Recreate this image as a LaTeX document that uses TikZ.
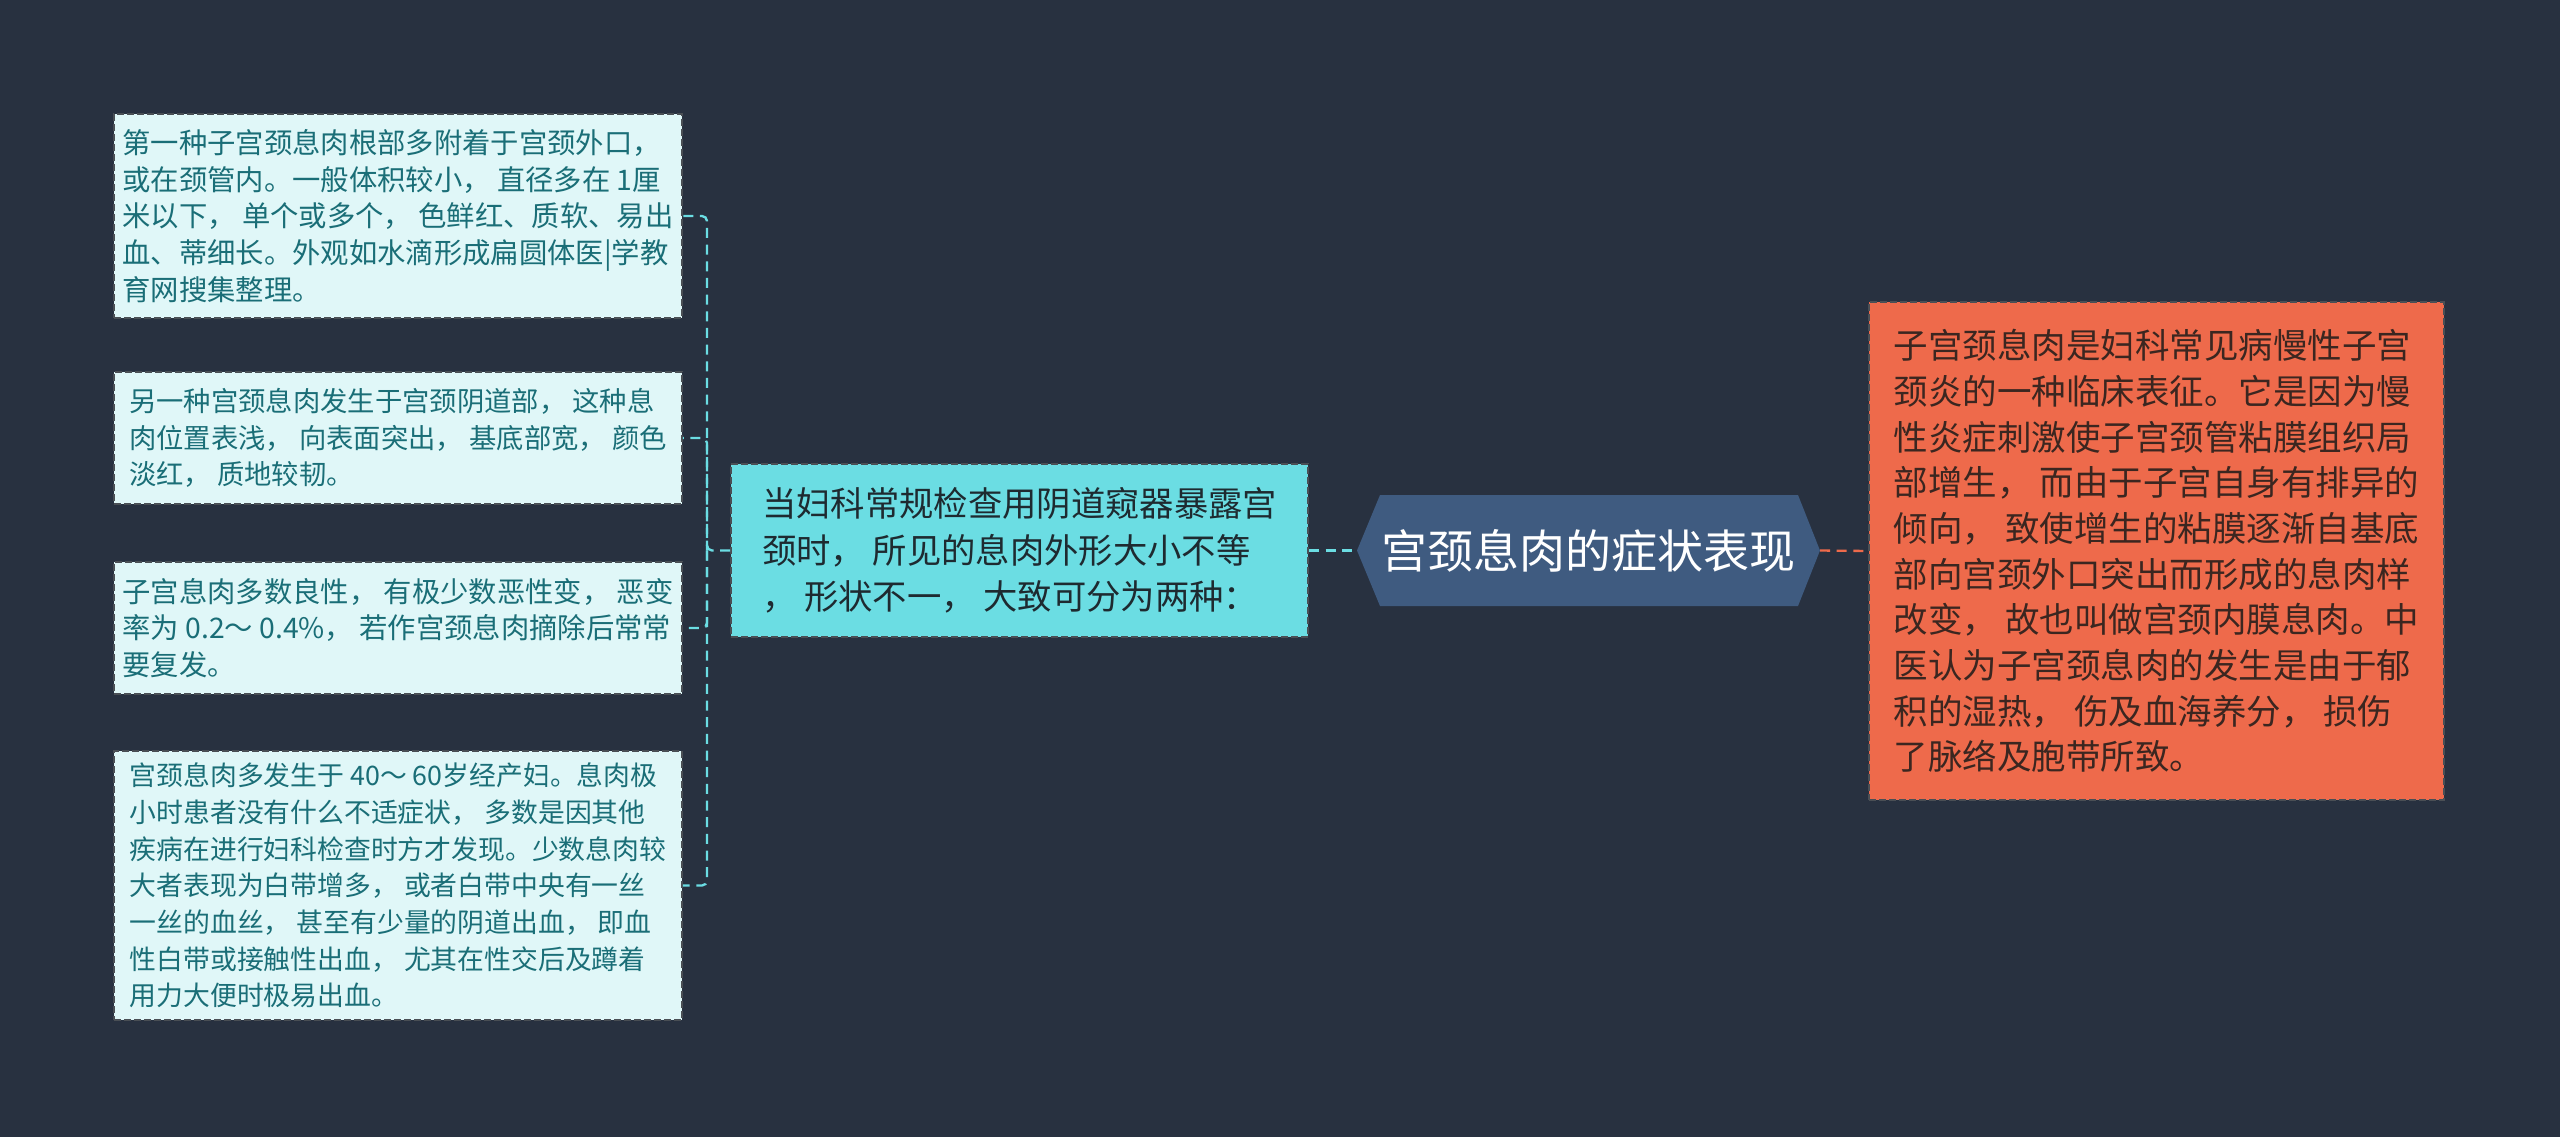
\documentclass[tikz,border=0pt]{standalone}
\usepackage{fontspec}
\setmainfont{Noto Sans CJK SC}
\definecolor{bgc}{HTML}{283140}
\definecolor{leaffill}{HTML}{E0F7F8}
\definecolor{leaftext}{HTML}{1A6E77}
\definecolor{cyanc}{HTML}{6BDDE3}
\definecolor{midtext}{HTML}{1E2A30}
\definecolor{hexfill}{HTML}{3F5B80}
\definecolor{orangec}{HTML}{EE6A4B}
\definecolor{orangetext}{HTML}{3B2620}
\definecolor{bordc}{HTML}{4A4F55}
\tikzset{
  leafbox/.style={draw=bordc, line width=0.5pt, dash pattern=on 2pt off 1pt, fill=leaffill,
    text=leaftext, align=left, minimum width=170.4pt, inner sep=0pt,
    font=\fontsize{8.5pt}{11pt}\selectfont},
  midbox/.style={draw=bordc, line width=0.5pt, dash pattern=on 2pt off 1pt, fill=cyanc,
    text=midtext, align=left, minimum width=173.1pt, minimum height=51.9pt, inner sep=0pt,
    font=\fontsize{10.3pt}{14pt}\selectfont},
  orangebox/.style={draw=bordc, line width=0.5pt, dash pattern=on 2pt off 1pt, fill=orangec,
    text=orangetext, align=left, minimum width=172.5pt, minimum height=149.4pt, inner sep=0pt,
    font=\fontsize{10.35pt}{13.7pt}\selectfont},
  centerbox/.style={text=white, minimum width=125pt, minimum height=33.3pt, inner sep=0pt,
    font=\fontsize{13.8pt}{16pt}\selectfont},
  hexshape/.style={fill=hexfill},
  cn/.style={draw=cyanc, line width=0.7pt, dash pattern=on 3pt off 2pt, rounded corners=1.5pt},
  on/.style={draw=orangec, line width=0.7pt, dash pattern=on 3pt off 2pt},
}
\begin{document}
\begin{tikzpicture}[x=0.3pt, y=-0.3pt]
\fill[bgc] (0,0) rectangle (2560,1137);
\useasboundingbox (0,0) rectangle (2560,1137);

\node[leafbox, minimum height=61.2pt] (l1) at (398,216) {第一种子宫颈息肉根部多附着于宫颈外口，\\或在颈管内。一般体积较小， 直径多在 1厘\\米以下， 单个或多个， 色鲜红、质软、易出\\血、蒂细长。外观如水滴形成扁圆体医|学教\\育网搜集整理。};
\node[leafbox, minimum height=39.6pt, font=\fontsize{8.2pt}{11pt}\selectfont] (l2) at (398,438) {另一种宫颈息肉发生于宫颈阴道部， 这种息\\肉位置表浅， 向表面突出， 基底部宽， 颜色\\淡红， 质地较韧。};
\node[leafbox, minimum height=39.6pt] (l3) at (398,628) {子宫息肉多数良性， 有极少数恶性变， 恶变\\率为 0.2～ 0.4\%， 若作宫颈息肉摘除后常常\\要复发。};
\node[leafbox, minimum height=80.7pt, font=\fontsize{8.05pt}{11pt}\selectfont] (l4) at (398,885.5) {宫颈息肉多发生于 40～ 60岁经产妇。息肉极\\小时患者没有什么不适症状， 多数是因其他\\疾病在进行妇科检查时方才发现。少数息肉较\\大者表现为白带增多， 或者白带中央有一丝\\一丝的血丝， 甚至有少量的阴道出血， 即血\\性白带或接触性出血， 尤其在性交后及蹲着\\用力大便时极易出血。};

\node[midbox] (m) at (1019.5,550.5) {当妇科常规检查用阴道窥器暴露宫\\颈时， 所见的息肉外形大小不等\\， 形状不一， 大致可分为两种：};

\fill[hexshape] (1380,495) -- (1798,495) -- (1820,550.5) -- (1798,606) -- (1380,606) -- (1357,550.5) -- cycle;
\node[centerbox] (c) at (1588.5,550.5) {宫颈息肉的症状表现};
\coordinate (cw) at (1357,550.5);
\coordinate (ce) at (1820,550.5);

\node[orangebox] (o) at (2156.5,551) {子宫颈息肉是妇科常见病慢性子宫\\颈炎的一种临床表征。它是因为慢\\性炎症刺激使子宫颈管粘膜组织局\\部增生， 而由于子宫自身有排异的\\倾向， 致使增生的粘膜逐渐自基底\\部向宫颈外口突出而形成的息肉样\\改变， 故也叫做宫颈内膜息肉。中\\医认为子宫颈息肉的发生是由于郁\\积的湿热， 伤及血海养分， 损伤\\了脉络及胞带所致。};

\coordinate (j) at (707,550.5);
\draw[cn] (m.west) -- (j) |- (l1.east);
\draw[cn] (j) |- (l2.east);
\draw[cn] (j) |- (l3.east);
\draw[cn] (j) |- (l4.east);
\draw[cn] (m.east) -- (cw);
\draw[on] (ce) -- (o.west);
\end{tikzpicture}
\end{document}
